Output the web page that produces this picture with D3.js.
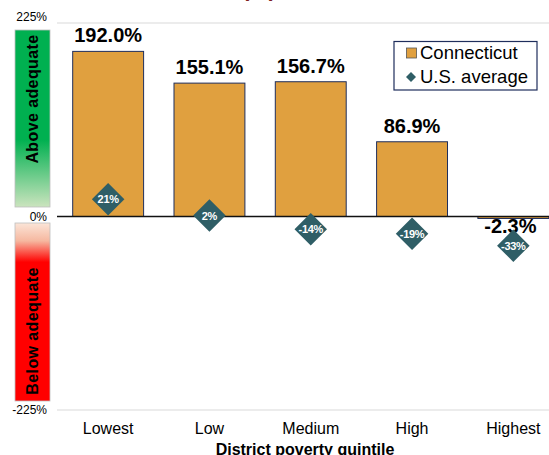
<!DOCTYPE html>
<html>
<head>
<meta charset="utf-8">
<script src="https://cdn.jsdelivr.net/npm/d3@7"></script>
<style>
  body { margin: 0; background: #fff; }
  svg { display: block; font-family: "Liberation Sans", Arial, sans-serif; }
</style>
</head>
<body>
<div id="chart"></div>
<script>
// chart data
const quintiles = ["Lowest", "Low", "Medium", "High", "Highest"];
const ctValues = [192.0, 155.1, 156.7, 86.9, -2.3];
const usValues = [21, 2, -14, -19, -33];
const yTicks = [225, 0, -225];
const seriesNames = ["Connecticut", "U.S. average"];

var width = 549,
    height = 455;

var svg = d3.select("#chart").append("svg")
    .attr("width", width)
    .attr("height", height);

const x = d3.scaleBand()
    .domain(quintiles)
    .range([57.5, 564])
    .paddingInner(0.3)
    .paddingOuter(0.15);

const y = d3.scaleLinear()
    .domain([-225, 225])
    .range([410, 23]);

const barFill = "#E0A03F",
      barStroke = "#1F2E5C",
      diamondFill = "#2F5E66";

// gradients for the side boxes
const defs = svg.append("defs");
const gUp = defs.append("linearGradient").attr("id", "gUp")
    .attr("x1", 0).attr("y1", 0).attr("x2", 0).attr("y2", 1);
gUp.append("stop").attr("offset", "0%").attr("stop-color", "#00B050");
gUp.append("stop").attr("offset", "62%").attr("stop-color", "#00B050");
gUp.append("stop").attr("offset", "100%").attr("stop-color", "#CBE4BE");

const gDown = defs.append("linearGradient").attr("id", "gDown")
    .attr("x1", 0).attr("y1", 0).attr("x2", 0).attr("y2", 1);
gDown.append("stop").attr("offset", "0%").attr("stop-color", "#FBE5D8");
gDown.append("stop").attr("offset", "10%").attr("stop-color", "#F6B8A0");
gDown.append("stop").attr("offset", "22%").attr("stop-color", "#FF0000");
gDown.append("stop").attr("offset", "100%").attr("stop-color", "#FF0000");

// title (mostly cut off at the top)
svg.append("text")
    .attr("x", 259).attr("y", -4.5)
    .attr("text-anchor", "middle")
    .attr("font-size", 22).attr("font-weight", "bold")
    .attr("fill", "#7F1F1F")
    .text("(%)");

// side boxes
svg.append("rect")
    .attr("x", 15).attr("y", 30).attr("width", 35).attr("height", 177)
    .attr("fill", "url(#gUp)").attr("stroke", "#BFBFBF").attr("stroke-width", 0.8);
svg.append("rect")
    .attr("x", 15).attr("y", 223).attr("width", 35).attr("height", 178)
    .attr("fill", "url(#gDown)").attr("stroke", "#BFBFBF").attr("stroke-width", 0.8);

svg.append("text")
    .attr("transform", "translate(37.5,99) rotate(-90)")
    .attr("text-anchor", "middle")
    .attr("font-size", 16).attr("font-weight", "bold")
    .attr("letter-spacing", 0.4)
    .text("Above adequate");
svg.append("text")
    .attr("transform", "translate(37.5,331) rotate(-90)")
    .attr("text-anchor", "middle")
    .attr("font-size", 16).attr("font-weight", "bold")
    .attr("letter-spacing", 0.4)
    .text("Below adequate");

// gridlines at top and bottom
svg.append("g")
    .selectAll("line")
    .data(yTicks.filter(d => d != 0))
    .enter()
    .append("line")
    .attr("x1", 57).attr("x2", width)
    .attr("y1", d => y(d)).attr("y2", d => y(d))
    .attr("stroke", "#D9D9D9").attr("stroke-width", 1);

// y tick labels
svg.append("g")
    .selectAll("text")
    .data(yTicks)
    .enter()
    .append("text")
    .attr("x", 47)
    .attr("y", d => y(d) + (d == 225 ? -2 : 4))
    .attr("text-anchor", "end")
    .attr("font-size", 12)
    .text(d => d + "%");

// bars
svg.append("g")
    .selectAll("rect")
    .data(ctValues)
    .enter()
    .append("rect")
    .attr("x", (d, i) => x(quintiles[i]))
    .attr("width", x.bandwidth())
    .attr("y", d => y(Math.max(0, d)))
    .attr("height", d => Math.abs(y(d) - y(0)))
    .attr("fill", barFill)
    .attr("stroke", barStroke)
    .attr("stroke-width", 1);

// zero line
svg.append("line")
    .attr("x1", 57).attr("x2", width)
    .attr("y1", y(0)).attr("y2", y(0))
    .attr("stroke", "#111").attr("stroke-width", 1.5);

// bar value labels
svg.append("g")
    .selectAll("text")
    .data(ctValues)
    .enter()
    .append("text")
    .attr("x", (d, i) => x(quintiles[i]) + x.bandwidth() / 2 - (d < 0 ? 3 : 0))
    .attr("y", d => d >= 0 ? y(d) - 9 : y(d) + 15)
    .attr("text-anchor", "middle")
    .attr("font-size", 20).attr("font-weight", "bold")
    .text(d => d.toFixed(1) + "%");

// U.S. average diamonds
const diamond = d3.symbol().type(d3.symbolSquare).size(23 * 23);
const dg = svg.append("g")
    .selectAll("g")
    .data(usValues)
    .enter()
    .append("g")
    .attr("transform", (d, i) => "translate(" + (x(quintiles[i]) + x.bandwidth() / 2) + "," + (y(d) + 0.8) + ")");
dg.append("path")
    .attr("d", diamond)
    .attr("transform", "rotate(45)")
    .attr("fill", diamondFill);
dg.append("text")
    .attr("y", 4)
    .attr("text-anchor", "middle")
    .attr("font-size", 11).attr("font-weight", "bold")
    .attr("letter-spacing", -0.3)
    .attr("fill", "#fff")
    .text(d => d + "%");

// x labels
svg.append("g")
    .selectAll("text")
    .data(quintiles)
    .enter()
    .append("text")
    .attr("x", d => x(d) + x.bandwidth() / 2)
    .attr("y", 434)
    .attr("text-anchor", "middle")
    .attr("font-size", 16)
    .text(d => d);

svg.append("text")
    .attr("x", 305).attr("y", 455)
    .attr("text-anchor", "middle")
    .attr("font-size", 16).attr("font-weight", "bold")
    .text("District poverty quintile");

// legend
const legend = svg.append("g");
legend.append("rect")
    .attr("x", 394).attr("y", 41.5).attr("width", 143).attr("height", 48.5)
    .attr("fill", "#fff").attr("stroke", barStroke).attr("stroke-width", 1.2);
legend.append("rect")
    .attr("x", 406.5).attr("y", 48).attr("width", 10).attr("height", 10)
    .attr("fill", barFill).attr("stroke", "#555").attr("stroke-width", 0.8);
legend.append("path")
    .attr("d", d3.symbol().type(d3.symbolSquare).size(50))
    .attr("transform", "translate(411,77) rotate(45)")
    .attr("fill", diamondFill);
legend.selectAll("text.lg")
    .data(seriesNames)
    .enter()
    .append("text")
    .attr("class", "lg")
    .attr("x", 420)
    .attr("y", (d, i) => 59 + i * 24)
    .attr("font-size", 18.5)
    .text(d => d);
</script>
</body>
</html>
